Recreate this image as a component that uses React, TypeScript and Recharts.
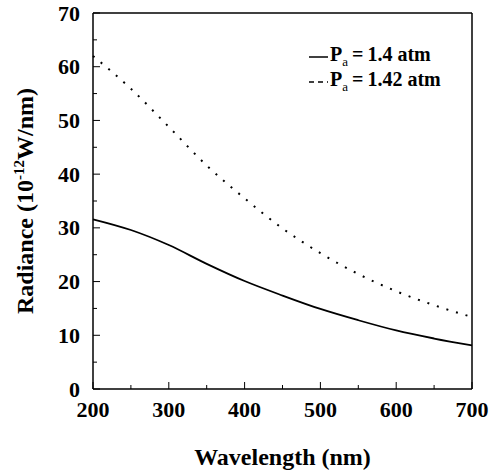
import React from 'react';
import { LineChart, Line, XAxis, YAxis, Legend, ReferenceLine } from 'recharts';

const wavelengths = [200, 250, 300, 350, 400, 450, 500, 550, 600, 650, 700];
const radiance14 = [31.6, 29.6, 26.8, 23.3, 20.1, 17.4, 14.9, 12.8, 10.9, 9.4, 8.1];
const radiance142 = [62.0, 55.9, 48.8, 41.6, 35.5, 29.9, 25.3, 21.4, 18.2, 15.6, 13.4];

const xTicks = [200, 250, 300, 350, 400, 450, 500, 550, 600, 650, 700];
const yTicks = [0, 5, 10, 15, 20, 25, 30, 35, 40, 45, 50, 55, 60, 65, 70];

const data = wavelengths.map((wl, i) => ({ wl, p14: radiance14[i], p142: radiance142[i] }));

const FONT = "'Liberation Serif', 'Times New Roman', serif";

function XTick(props: any) {
  const { x, y, payload } = props;
  const major = payload.value % 100 === 0;
  return (
    <g>
      <line x1={x} x2={x} y1={y} y2={y - (major ? 7 : 4)} stroke="#000" strokeWidth={1} />
      {major && (
        <text x={x} y={y + 28} textAnchor="middle" style={{ fontFamily: FONT }} fontWeight="bold" fontSize={22} fill="#000">
          {payload.value}
        </text>
      )}
    </g>
  );
}

function YTick(props: any) {
  const { x, y, payload } = props;
  const major = payload.value % 10 === 0;
  return (
    <g>
      <line x1={x} x2={x + (major ? 7 : 4)} y1={y} y2={y} stroke="#000" strokeWidth={1} />
      {major && (
        <text x={x - 13} y={y + 7.5} textAnchor="end" style={{ fontFamily: FONT }} fontWeight="bold" fontSize={22} fill="#000">
          {payload.value}
        </text>
      )}
    </g>
  );
}

function YLabel(props: any) {
  const vb = props.viewBox || {};
  const cy = vb.y + vb.height / 2;
  const cx = 33;
  return (
    <text
      x={cx}
      y={cy}
      transform={`rotate(-90, ${cx}, ${cy})`}
      textAnchor="middle"
      style={{ fontFamily: FONT }}
      fontWeight="bold"
      fontSize={24}
      fill="#000"
    >
      <tspan>Radiance (10</tspan>
      <tspan fontSize={15} dy={-9}>-12</tspan>
      <tspan dy={9}>W/nm)</tspan>
    </text>
  );
}

function XLabel(props: any) {
  const vb = props.viewBox || {};
  return (
    <text x={vb.x + vb.width / 2} y={465} textAnchor="middle" style={{ fontFamily: FONT }} fontWeight="bold" fontSize={24} fill="#000">
      Wavelength (nm)
    </text>
  );
}

function LegendBox() {
  const rows = [
    { dash: undefined, value: '1.4 atm' },
    { dash: '5 4', value: '1.42 atm' },
  ];
  return (
    <div style={{ fontFamily: FONT, fontWeight: 'bold', fontSize: 20, color: '#000' }}>
      {rows.map((r) => (
        <div key={r.value} style={{ display: 'flex', alignItems: 'center', height: 25, whiteSpace: 'nowrap' }}>
          <svg width={19} height={10} style={{ marginRight: 2 }}>
            <line x1={0} x2={19} y1={5} y2={5} stroke="#000" strokeWidth={1.5} strokeDasharray={r.dash} />
          </svg>
          <span>
            P<sub style={{ fontSize: 13, fontWeight: 'normal' }}>a</sub>
            {'\u2009=\u2009'}
            {r.value}
          </span>
        </div>
      ))}
    </div>
  );
}

export default function App() {
  return (
    <div style={{ position: 'absolute', left: 0, top: 0, background: '#fff' }}>
      <LineChart width={491} height={476} data={data} margin={{ top: 13, right: 19, bottom: 0, left: 0 }}>
        <XAxis
          dataKey="wl"
          type="number"
          domain={[200, 700]}
          ticks={xTicks}
          interval={0}
          height={87}
          tickSize={0}
          tickMargin={0}
          tick={<XTick />}
          axisLine={{ stroke: '#000', strokeWidth: 1.5 }}
          label={<XLabel />}
        />
        <YAxis
          type="number"
          domain={[0, 70]}
          ticks={yTicks}
          interval={0}
          width={93}
          tickSize={0}
          tickMargin={0}
          tick={<YTick />}
          axisLine={{ stroke: '#000', strokeWidth: 1.5 }}
          label={<YLabel />}
        />
        <ReferenceLine y={70} stroke="#000" strokeWidth={1.5} />
        <ReferenceLine x={700} stroke="#000" strokeWidth={1.5} />
        <Legend
          layout="vertical"
          align="center"
          verticalAlign="middle"
          wrapperStyle={{ top: 44, left: 309, width: 175 }}
          content={<LegendBox />}
        />
        <Line type="monotone" dataKey="p14" stroke="#000" strokeWidth={1.8} dot={false} isAnimationActive={false} />
        <Line
          type="monotone"
          dataKey="p142"
          stroke="#000"
          strokeWidth={2}
          strokeDasharray="2 8"
          dot={false}
          isAnimationActive={false}
        />
      </LineChart>
    </div>
  );
}
